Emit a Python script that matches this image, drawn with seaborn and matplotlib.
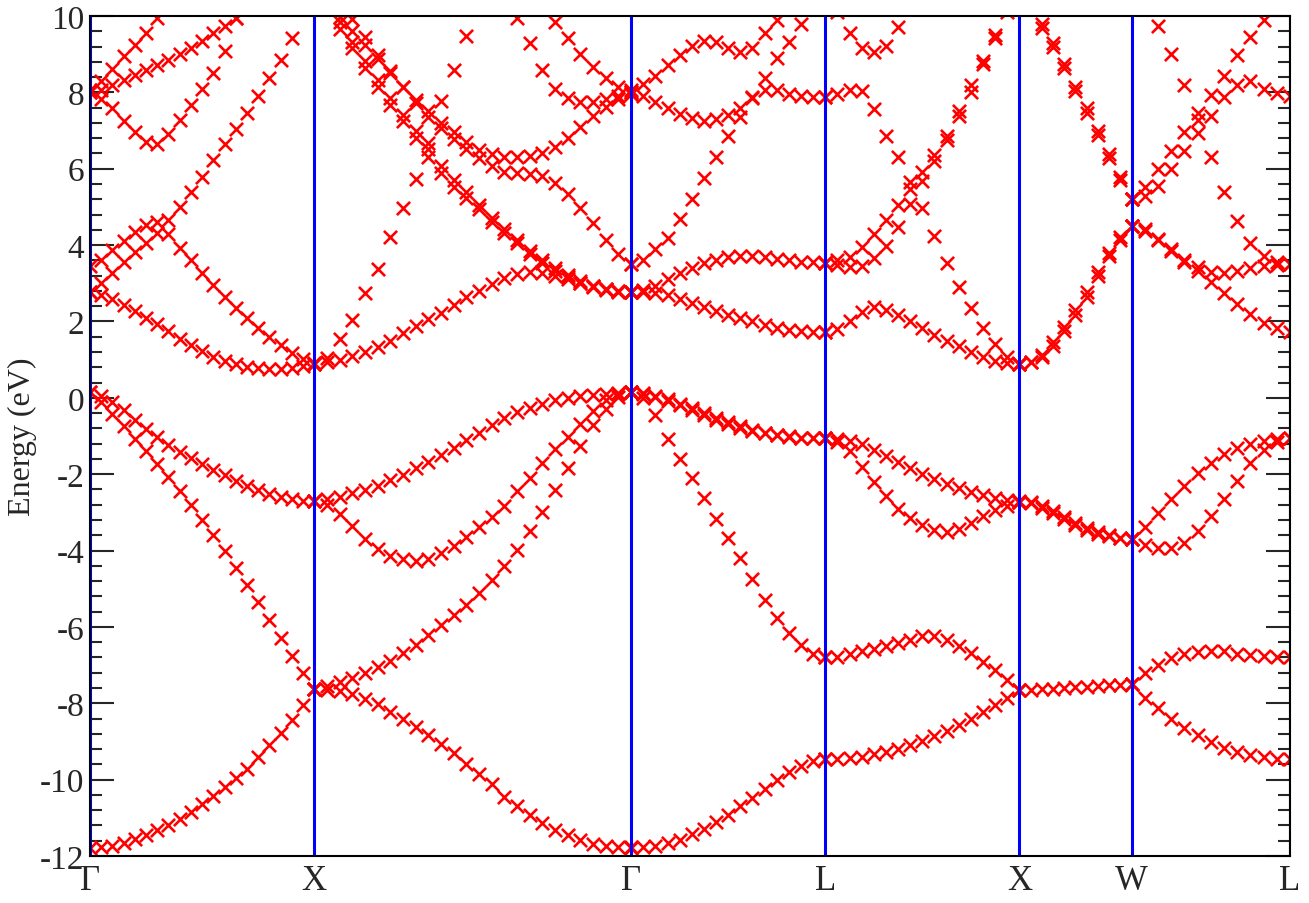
import numpy as np
import pandas as pd
import seaborn as sns
import matplotlib.pyplot as plt
from matplotlib.ticker import MultipleLocator

sns.set_style("white")
plt.rcParams['font.family'] = ['Liberation Serif', 'DejaVu Serif']
plt.rcParams['axes.unicode_minus'] = False

nan = np.nan

# high symmetry points (k distance) and labels
kpts = [0.0, 1.0, 2.414, 3.280, 4.146, 4.646, 5.353]
klabels = ["Γ", "X", "Γ", "L", "X", "W", "L"]

# Gamma -> X  (21 samples)
gx_bands = [
    [-11.78, -11.77, -11.73, -11.65, -11.56, -11.46, -11.33, -11.19, -11.03, -10.85, -10.64,
     -10.43, -10.20, -9.96, -9.72, -9.42, -9.10, -8.77, -8.43, -8.05, -7.63],
    [0.14, -0.12, -0.43, -0.75, -1.07, -1.39, -1.73, -2.08, -2.44, -2.82, -3.20,
     -3.59, -4.01, -4.45, -4.90, -5.36, -5.83, -6.30, -6.77, -7.22, -7.63],
    [0.14, 0.06, -0.10, -0.32, -0.58, -0.81, -1.03, -1.24, -1.42, -1.58, -1.74,
     -1.88, -2.03, -2.17, -2.30, -2.42, -2.52, -2.61, -2.66, -2.69, -2.70],
    [2.76, 2.70, 2.58, 2.43, 2.27, 2.10, 1.93, 1.74, 1.55, 1.38, 1.22,
     1.08, 0.97, 0.88, 0.81, 0.77, 0.75, 0.75, 0.78, 0.83, 0.89],
    [2.76, 3.00, 3.27, 3.55, 3.83, 4.06, 4.32, 4.65, 5.00, 5.38, 5.79,
     6.22, 6.64, 7.05, 7.46, 7.90, 8.37, 8.84, 9.42, 10.2, 10.9],
    [3.46, 3.62, 3.88, 4.12, 4.35, 4.53, 4.60, 4.30, 3.93, 3.60, 3.27,
     2.96, 2.65, 2.36, 2.08, 1.82, 1.58, 1.38, 1.18, 1.02, 0.90],
    [8.00, 7.82, 7.58, 7.26, 6.95, 6.71, 6.66, 6.90, 7.27, 7.68, 8.10,
     8.50, 9.08, 9.95, 10.8, nan, nan, nan, nan, nan, nan],
    [8.02, 8.07, 8.20, 8.33, 8.46, 8.58, 8.72, 8.86, 9.00, 9.16, 9.35,
     9.56, 9.75, 9.95, 10.2, nan, nan, nan, nan, nan, nan],
    [8.05, 8.30, 8.60, 8.95, 9.25, 9.55, 9.95, 10.4, nan, nan, nan,
     nan, nan, nan, nan, nan, nan, nan, nan, nan, nan],
]

# X -> Gamma  (26 samples)
xg_bands = [
    [-7.63, -7.64, -7.67, -7.75, -7.88, -8.03, -8.22, -8.42, -8.63, -8.84, -9.06, -9.30, -9.58,
     -9.85, -10.12, -10.45, -10.70, -10.93, -11.13, -11.31, -11.46, -11.58, -11.68, -11.74, -11.77, -11.78],
    [-7.63, -7.55, -7.45, -7.33, -7.20, -7.05, -6.88, -6.68, -6.47, -6.22, -5.96, -5.70, -5.42,
     -5.12, -4.78, -4.40, -3.98, -3.50, -2.98, -2.42, -1.83, -1.25, -0.72, -0.30, 0.02, 0.14],
    [-2.70, -2.82, -3.03, -3.37, -3.70, -3.96, -4.13, -4.23, -4.27, -4.22, -4.07, -3.89, -3.65,
     -3.39, -3.12, -2.84, -2.44, -2.09, -1.72, -1.35, -1.02, -0.68, -0.35, -0.07, 0.09, 0.14],
    [-2.70, -2.65, -2.59, -2.50, -2.41, -2.30, -2.16, -2.02, -1.85, -1.69, -1.51, -1.31, -1.11,
     -0.91, -0.71, -0.53, -0.38, -0.26, -0.15, -0.07, 0.00, 0.04, 0.08, 0.11, 0.13, 0.14],
    [0.89, 0.93, 0.99, 1.09, 1.20, 1.33, 1.50, 1.69, 1.88, 2.06, 2.22, 2.42, 2.63,
     2.80, 2.97, 3.13, 3.24, 3.29, 3.28, 3.20, 3.11, 3.01, 2.92, 2.84, 2.79, 2.77],
    [0.89, 1.05, 1.55, 2.05, 2.75, 3.38, 4.20, 4.98, 5.73, 6.68, 7.78, 8.58, 9.48,
     10.3, nan, nan, nan, nan, nan, nan, nan, nan, nan, nan, nan, nan],
    [10.7, 10.2, 9.67, 9.15, 8.65, 8.15, 7.67, 7.24, 6.80, 6.32, 5.90, 5.52, 5.24,
     4.94, 4.60, 4.32, 4.05, 3.76, 3.53, 3.33, 3.16, 3.02, 2.91, 2.83, 2.78, 2.76],
    [10.9, 10.4, 9.85, 9.32, 8.82, 8.33, 7.86, 7.42, 6.98, 6.52, 6.08, 5.70, 5.38,
     5.06, 4.72, 4.42, 4.13, 3.84, 3.60, 3.39, 3.21, 3.06, 2.94, 2.85, 2.79, 2.76],
    [10.7, 10.35, 9.98, 9.60, 9.24, 8.88, 8.52, 8.15, 7.80, 7.50, 7.21, 6.95, 6.70,
     6.50, 6.38, 6.32, 6.30, 6.33, 6.42, 6.58, 6.80, 7.10, 7.38, 7.62, 7.83, 7.97],
    [11.0, 10.7, 10.35, 9.92, 9.45, 8.98, 8.55, 8.13, 7.73, 7.36, 7.06, 6.78, 6.52,
     6.28, 6.06, 5.92, 5.88, 5.86, 5.80, 5.62, 5.34, 4.98, 4.58, 4.14, 3.76, 3.50],
    [nan, nan, nan, nan, nan, nan, nan, nan, nan, nan, nan, nan, nan,
     nan, nan, nan, 9.95, 9.30, 8.58, 8.10, 7.84, 7.74, 7.76, 7.83, 7.91, 7.97],
    [nan, nan, nan, nan, nan, nan, nan, nan, nan, nan, nan, nan, nan,
     nan, nan, nan, nan, nan, 10.2, 9.83, 9.43, 9.01, 8.66, 8.38, 8.15, 8.00],
]

# Gamma -> L  (17 samples)
gl_bands = [
    [-11.77, -11.76, -11.73, -11.67, -11.57, -11.43, -11.29, -11.12, -10.92,
     -10.70, -10.47, -10.24, -10.02, -9.81, -9.64, -9.51, -9.46],
    [0.14, 0.00, -0.44, -1.09, -1.59, -2.10, -2.62, -3.17, -3.67,
     -4.20, -4.75, -5.30, -5.77, -6.17, -6.47, -6.71, -6.80],
    [0.14, 0.10, 0.01, -0.09, -0.20, -0.32, -0.45, -0.58, -0.68,
     -0.78, -0.87, -0.93, -0.98, -1.02, -1.04, -1.05, -1.06],
    [0.14, 0.12, 0.05, -0.04, -0.15, -0.27, -0.40, -0.53, -0.64,
     -0.75, -0.84, -0.91, -0.97, -1.01, -1.04, -1.05, -1.06],
    [2.76, 2.76, 2.74, 2.70, 2.60, 2.49, 2.38, 2.28, 2.18,
     2.09, 2.00, 1.92, 1.84, 1.78, 1.74, 1.72, 1.72],
    [2.76, 2.82, 2.94, 3.10, 3.26, 3.40, 3.52, 3.62, 3.69,
     3.72, 3.71, 3.68, 3.64, 3.60, 3.57, 3.55, 3.54],
    [3.50, 3.62, 3.90, 4.18, 4.68, 5.21, 5.75, 6.32, 6.85,
     7.36, 7.87, 8.38, 8.90, 9.31, 9.80, 10.3, 10.8],
    [8.00, 7.90, 7.74, 7.58, 7.44, 7.32, 7.26, 7.30, 7.40,
     7.58, 7.86, 8.07, 8.05, 7.96, 7.91, 7.88, 7.87],
    [8.05, 8.22, 8.44, 8.72, 8.98, 9.22, 9.34, 9.32, 9.16,
     9.05, 9.15, 9.55, 9.90, 10.3, 10.7, nan, nan],
]

# L -> X  (17 samples)
lx_bands = [
    [-9.46, -9.45, -9.43, -9.40, -9.34, -9.28, -9.20, -9.10, -8.99,
     -8.86, -8.72, -8.57, -8.40, -8.23, -8.05, -7.85, -7.65],
    [-6.80, -6.78, -6.72, -6.64, -6.57, -6.49, -6.41, -6.33, -6.25,
     -6.24, -6.33, -6.50, -6.68, -6.92, -7.14, -7.40, -7.66],
    [-1.06, -1.07, -1.12, -1.22, -1.36, -1.52, -1.68, -1.85, -2.00,
     -2.13, -2.26, -2.37, -2.47, -2.55, -2.62, -2.68, -2.71],
    [-1.06, -1.15, -1.40, -1.81, -2.20, -2.58, -2.90, -3.16, -3.34,
     -3.47, -3.51, -3.44, -3.27, -3.10, -2.95, -2.83, -2.73],
    [1.72, 1.80, 2.02, 2.24, 2.37, 2.30, 2.16, 2.00, 1.83,
     1.65, 1.50, 1.35, 1.20, 1.06, 0.96, 0.91, 0.89],
    [3.53, 3.60, 3.70, 3.95, 4.28, 4.66, 5.04, 5.47, 5.91,
     6.35, 6.87, 7.50, 8.19, 8.82, 9.50, 10.2, 10.9],
    [3.52, 3.47, 3.42, 3.45, 3.66, 3.98, 4.48, 5.08, 5.67,
     6.19, 6.76, 7.37, 8.02, 8.73, 9.42, 10.1, 10.8],
    [7.87, 7.96, 8.06, 8.03, 7.56, 6.87, 6.30, 5.66, 4.98,
     4.23, 3.52, 2.91, 2.35, 1.84, 1.40, 1.08, 0.89],
    [10.6, 10.1, 9.55, 9.15, 9.06, 9.22, 9.70, 10.3, nan,
     nan, nan, nan, nan, nan, nan, nan, nan],
]

# X -> W  (11 samples)
xw_bands = [
    [-7.66, -7.65, -7.63, -7.62, -7.60, -7.58, -7.57, -7.55, -7.53, -7.52, -7.50],
    [-2.72, -2.76, -2.88, -3.02, -3.18, -3.34, -3.46, -3.56, -3.63, -3.67, -3.69],
    [-2.72, -2.74, -2.84, -2.97, -3.12, -3.28, -3.41, -3.52, -3.60, -3.66, -3.69],
    [0.89, 0.93, 1.07, 1.36, 1.75, 2.18, 2.64, 3.20, 3.72, 4.14, 4.51],
    [0.89, 0.95, 1.13, 1.45, 1.86, 2.30, 2.77, 3.30, 3.80, 4.20, 4.51],
    [10.8, 10.25, 9.68, 9.19, 8.63, 8.03, 7.46, 6.88, 6.29, 5.71, 5.21],
    [10.9, 10.35, 9.80, 9.30, 8.74, 8.15, 7.58, 6.98, 6.38, 5.78, 5.21],
]

# W -> L  (13 samples)
wl_bands = [
    [-7.50, -7.22, -6.99, -6.82, -6.72, -6.66, -6.62, -6.64, -6.70, -6.74, -6.77, -6.79, -6.80],
    [-7.50, -7.85, -8.13, -8.40, -8.64, -8.84, -9.01, -9.16, -9.28, -9.36, -9.42, -9.45, -9.46],
    [-3.70, -3.38, -3.02, -2.66, -2.32, -1.98, -1.70, -1.48, -1.32, -1.20, -1.12, -1.08, -1.06],
    [-3.70, -3.86, -3.94, -3.93, -3.80, -3.50, -3.10, -2.65, -2.18, -1.72, -1.37, -1.17, -1.06],
    [4.51, 4.43, 4.17, 3.90, 3.62, 3.43, 3.30, 3.28, 3.33, 3.40, 3.46, 3.49, 3.51],
    [4.51, 4.36, 4.13, 3.85, 3.56, 3.33, 3.04, 2.74, 2.46, 2.20, 1.95, 1.82, 1.72],
    [5.21, 5.28, 5.55, 6.00, 6.46, 6.93, 7.37, 7.87, 8.20, 8.31, 8.10, 7.98, 7.90],
    [5.21, 5.52, 5.98, 6.46, 6.95, 7.45, 7.94, 8.44, 8.97, 9.45, 9.90, 10.4, 10.9],
    [11.0, 10.2, 9.75, 9.00, 8.20, 7.28, 6.30, 5.38, 4.62, 4.06, 3.72, 3.56, 3.50],
]

segments = [gx_bands, xg_bands, gl_bands, lx_bands, xw_bands, wl_bands]

rows = []
for i, bands in enumerate(segments):
    for j, band in enumerate(bands):
        ks = np.linspace(kpts[i], kpts[i + 1], len(band))
        for kk, e in zip(ks, band):
            rows.append([kk, e, "%d_%d" % (i, j)])
df = pd.DataFrame(rows, columns=["k", "E", "band"]).dropna()

fig = plt.figure(figsize=(13.09, 9.04), dpi=100)
ax = fig.add_axes([90 / 1309, 1 - 857 / 904, 1200 / 1309, 840 / 904])

sns.scatterplot(data=df, x="k", y="E", marker="x", color="red", s=90,
                linewidth=1.9, ax=ax, legend=False, zorder=2)

for k in kpts:
    ax.axvline(k, color="blue", lw=2.2, zorder=3)

ax.set_xlim(kpts[0], kpts[-1])
ax.set_ylim(-12, 10)
ax.set_yticks(range(-12, 11, 2))
ax.yaxis.set_minor_locator(MultipleLocator(0.4))
ax.set_xticks(kpts)
ax.set_xticklabels(klabels)

ax.tick_params(axis="y", which="both", direction="in", left=True, right=True,
               width=1.5, labelsize=24, pad=4)
ax.tick_params(axis="y", which="major", length=17)
ax.tick_params(axis="y", which="minor", length=8.5)
ax.tick_params(axis="x", which="both", length=0, labelsize=25, pad=6)

for sp in ax.spines.values():
    sp.set_linewidth(1.5)
    sp.set_color("black")
    sp.set_zorder(4)

ax.set_xlabel("")
ax.set_ylabel("Energy (eV)", fontsize=23, labelpad=2)

plt.savefig("out.png", dpi=100)
